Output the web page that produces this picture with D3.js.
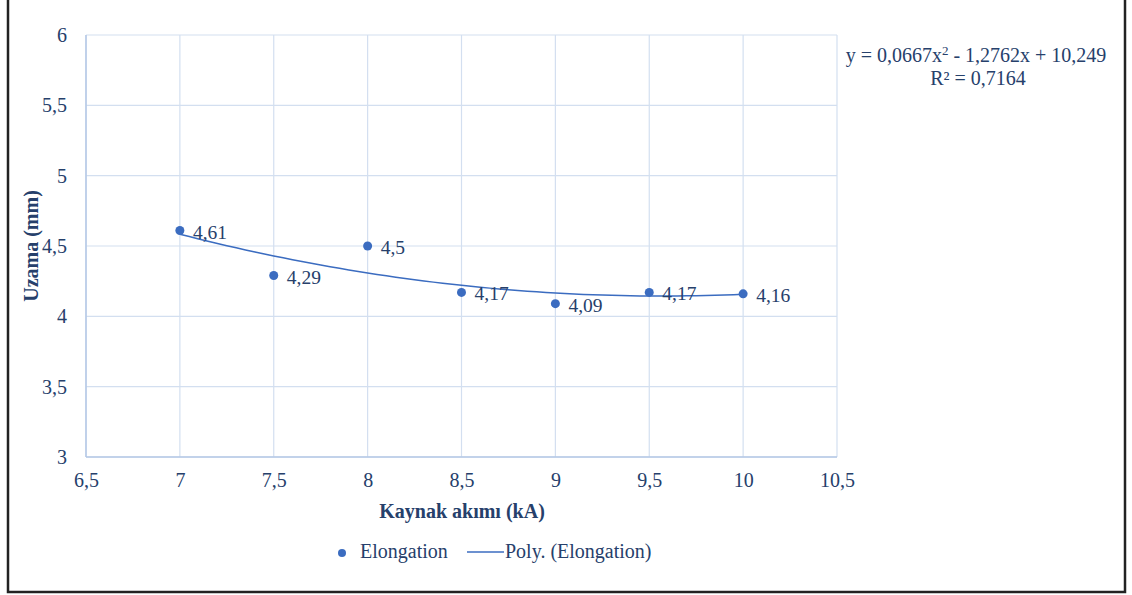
<!DOCTYPE html>
<html>
<head>
<meta charset="utf-8">
<script src="https://cdn.jsdelivr.net/npm/d3@7"></script>
<style>
  html, body { margin: 0; padding: 0; background: #fff; }
  svg { display: block; }
  svg text { font-family: "Liberation Serif", "Times New Roman", serif; }
</style>
</head>
<body>
<svg id="chart" width="1132" height="595"></svg>
<script>
// Welding current (kA) vs. elongation (mm)
const current = [7, 7.5, 8, 8.5, 9, 9.5, 10];
const elongation = [4.61, 4.29, 4.5, 4.17, 4.09, 4.17, 4.16];
const dataLabels = ["4,61", "4,29", "4,5", "4,17", "4,09", "4,17", "4,16"];

// Polynomial trendline coefficients (a2, a1, a0)
const polyCoef = [0.0667, -1.2762, 10.249];

const xTicks = [6.5, 7, 7.5, 8, 8.5, 9, 9.5, 10, 10.5];
const yTicks = [3, 3.5, 4, 4.5, 5, 5.5, 6];
const fmt = v => String(v).replace(".", ",");

const textColor = "#26406b";
const markColor = "#3b6cc0";
const gridColor = "#d3dff0";
const axisColor = "#b4c8e6";
const fontFamily = "Liberation Serif";

const svg = d3.select("#chart");

// Outer frame
svg.append("rect")
  .attr("x", 8).attr("y", -2).attr("width", 1117).attr("height", 594)
  .attr("fill", "none").attr("stroke", "#222").attr("stroke-width", 2.5);

const plot = { left: 86, right: 837, top: 35, bottom: 457 };
const x = d3.scaleLinear().domain([6.5, 10.5]).range([plot.left, plot.right]);
const y = d3.scaleLinear().domain([3, 6]).range([plot.bottom, plot.top]);

// Grid
const grid = svg.append("g");
grid.selectAll("line.v").data(xTicks).join("line")
  .attr("x1", d => x(d)).attr("x2", d => x(d))
  .attr("y1", plot.top).attr("y2", plot.bottom)
  .attr("stroke", gridColor).attr("stroke-width", 1.2);
grid.selectAll("line.h").data(yTicks).join("line")
  .attr("x1", plot.left).attr("x2", plot.right)
  .attr("y1", d => y(d)).attr("y2", d => y(d))
  .attr("stroke", gridColor).attr("stroke-width", 1.2);

// Axis lines
svg.append("line").attr("x1", plot.left).attr("x2", plot.left)
  .attr("y1", plot.top).attr("y2", plot.bottom)
  .attr("stroke", axisColor).attr("stroke-width", 1.5);
svg.append("line").attr("x1", plot.left).attr("x2", plot.right)
  .attr("y1", plot.bottom).attr("y2", plot.bottom)
  .attr("stroke", axisColor).attr("stroke-width", 1.5);

// Tick labels via d3 axes (no domain/tick lines)
const xAxis = svg.append("g")
  .attr("transform", `translate(0,${plot.bottom})`)
  .call(d3.axisBottom(x).tickValues(xTicks).tickFormat(fmt).tickSize(0).tickPadding(16));
const yAxis = svg.append("g")
  .attr("transform", `translate(${plot.left},0)`)
  .call(d3.axisLeft(y).tickValues(yTicks).tickFormat(fmt).tickSize(0).tickPadding(19));
[xAxis, yAxis].forEach(g => {
  g.attr("font-family", fontFamily).attr("font-size", 20);
  g.select(".domain").remove();
  g.selectAll("text").attr("fill", textColor);
});

// Trendline
const poly = v => polyCoef[0] * v * v + polyCoef[1] * v + polyCoef[2];
const trendX = d3.range(0, 61).map(i => 7 + i * 0.05);
svg.append("path")
  .datum(trendX)
  .attr("d", d3.line().x(d => x(d)).y(d => y(poly(d))))
  .attr("fill", "none").attr("stroke", markColor).attr("stroke-width", 1.5);

// Points
const pts = current.map((c, i) => ({ c, v: elongation[i], label: dataLabels[i] }));
svg.append("g").selectAll("circle").data(pts).join("circle")
  .attr("cx", d => x(d.c)).attr("cy", d => y(d.v)).attr("r", 4.5)
  .attr("fill", markColor);

// Data labels
svg.append("g").selectAll("text").data(pts).join("text")
  .attr("x", d => x(d.c) + 13).attr("y", d => y(d.v) + 8)
  .attr("fill", textColor).attr("font-size", 19.5)
  .text(d => d.label);

// Axis titles
svg.append("text")
  .attr("x", 462).attr("y", 518)
  .attr("text-anchor", "middle").attr("fill", textColor)
  .attr("font-size", 20).attr("font-weight", "bold")
  .text("Kaynak akımı (kA)");
svg.append("text")
  .attr("transform", `translate(38,${(plot.top + plot.bottom) / 2}) rotate(-90)`)
  .attr("text-anchor", "middle").attr("fill", textColor)
  .attr("font-size", 20).attr("font-weight", "bold")
  .text("Uzama (mm)");

// Trendline equation
const eq = svg.append("g").attr("fill", textColor).attr("font-size", 20);
const eq1 = eq.append("text").attr("x", 976).attr("y", 62).attr("text-anchor", "middle");
eq1.append("tspan").text("y = " + fmt(polyCoef[0]) + "x");
eq1.append("tspan").attr("font-size", 13).attr("dy", -7).text("2");
eq1.append("tspan").attr("dy", 7).text(" - " + fmt(-polyCoef[1]) + "x + " + fmt(polyCoef[2]));
eq.append("text").attr("x", 978).attr("y", 85).attr("text-anchor", "middle")
  .text("R² = 0,7164");

// Legend
const legend = svg.append("g").attr("transform", "translate(0,553)");
legend.append("circle").attr("cx", 342).attr("cy", 0).attr("r", 4).attr("fill", markColor);
legend.append("text").attr("x", 360).attr("y", 5).attr("fill", textColor)
  .attr("font-size", 20).text("Elongation");
legend.append("line").attr("x1", 467).attr("x2", 504).attr("y1", -1).attr("y2", -1)
  .attr("stroke", markColor).attr("stroke-width", 1.5);
legend.append("text").attr("x", 505).attr("y", 5).attr("fill", textColor)
  .attr("font-size", 20).text("Poly. (Elongation)");
</script>
</body>
</html>
